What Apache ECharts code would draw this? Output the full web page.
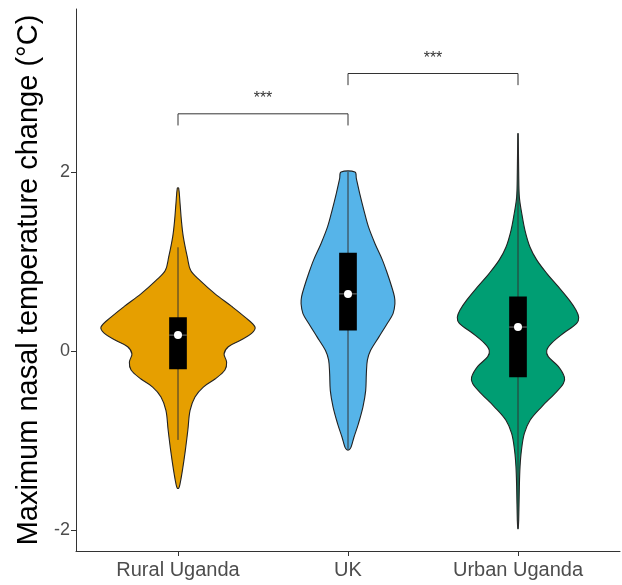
<!DOCTYPE html>
<html>
<head>
<meta charset="utf-8">
<title>Maximum nasal temperature change</title>
<script src="https://cdn.jsdelivr.net/npm/echarts@6/dist/echarts.min.js"></script>
<style>
  html, body { margin: 0; padding: 0; background: #fff; }
  #chart { width: 622px; height: 585px; }
</style>
</head>
<body>
<div id="chart"></div>
<script>
const categories = ['Rural Uganda', 'UK', 'Urban Uganda']
const yTicks = [-2, 0, 2]

// violin outlines: y value and half width (in x axis units)
const ruralY = [1.82, 1.65, 1.46, 1.28, 1.05, 0.90, 0.79, 0.64, 0.50, 0.38, 0.27, 0.20, 0.12, 0.05, -0.03, -0.12, -0.21, -0.31, -0.40, -0.51, -0.66, -0.88, -1.11, -1.33, -1.48, -1.53]
const ruralHalfWidth = [0.004, 0.012, 0.020, 0.031, 0.055, 0.075, 0.129, 0.218, 0.316, 0.394, 0.453, 0.433, 0.365, 0.296, 0.271, 0.286, 0.276, 0.218, 0.149, 0.100, 0.071, 0.058, 0.043, 0.026, 0.012, 0.004]

const ukY = [2.00, 1.93, 1.76, 1.57, 1.39, 1.20, 1.02, 0.87, 0.72, 0.61, 0.53, 0.42, 0.31, 0.16, 0.01, -0.10, -0.25, -0.44, -0.62, -0.81, -0.96, -1.07, -1.10]
const ukHalfWidth = [0.041, 0.049, 0.069, 0.094, 0.120, 0.159, 0.202, 0.231, 0.257, 0.273, 0.276, 0.265, 0.231, 0.182, 0.133, 0.114, 0.108, 0.104, 0.088, 0.061, 0.035, 0.018, 0.006]

const urbanY = [2.43, 2.00, 1.72, 1.54, 1.35, 1.16, 1.02, 0.87, 0.72, 0.57, 0.46, 0.38, 0.31, 0.20, 0.09, 0.01, -0.06, -0.17, -0.29, -0.36, -0.47, -0.62, -0.77, -0.92, -1.11, -1.29, -1.51, -1.89, -1.98]
const urbanHalfWidth = [0.001, 0.004, 0.008, 0.022, 0.041, 0.071, 0.110, 0.169, 0.237, 0.302, 0.341, 0.357, 0.345, 0.267, 0.198, 0.169, 0.178, 0.237, 0.273, 0.267, 0.218, 0.139, 0.071, 0.037, 0.020, 0.012, 0.008, 0.004, 0.001]

// box summaries
const boxLower = [-0.20, 0.23, -0.29]
const boxUpper = [0.38, 1.10, 0.61]
const centre = [0.18, 0.64, 0.27]
const whiskerLower = [-0.99, -1.09, -1.98]
const whiskerUpper = [1.16, 2.00, 2.43]

// significance brackets
const bracketFrom = [1, 2]
const bracketTo = [2, 3]
const bracketY = [2.65, 3.10]
const bracketLabel = ['***', '***']

const violinY = [ruralY, ukY, urbanY]
const violinW = [ruralHalfWidth, ukHalfWidth, urbanHalfWidth]
const colors = ['#E69F00', '#56B4E9', '#009E73']

const boxHalf = 0.052
const tipLength = 0.13

const renderViolin = (params, api) => {
  const i = params.dataIndex
  const cx = i + 1
  const ys = violinY[i]
  const ws = violinW[i]
  const pts = []
  for (let k = 0; k < ys.length; k++) pts.push(api.coord([cx + ws[k], ys[k]]))
  for (let k = ys.length - 1; k >= 0; k--) pts.push(api.coord([cx - ws[k], ys[k]]))

  const tl = api.coord([cx - boxHalf, boxUpper[i]])
  const br = api.coord([cx + boxHalf, boxLower[i]])
  const wTop = api.coord([cx, whiskerUpper[i]])
  const wBot = api.coord([cx, whiskerLower[i]])
  const mid = api.coord([cx, centre[i]])

  return {
    type: 'group',
    children: [
      {
        type: 'polygon',
        shape: { points: pts, smooth: 0.35 },
        style: { fill: colors[i], stroke: '#222', lineWidth: 1.1 }
      },
      {
        type: 'line',
        shape: { x1: wTop[0], y1: wTop[1], x2: wBot[0], y2: wBot[1] },
        style: { stroke: '#333', lineWidth: 1 }
      },
      {
        type: 'rect',
        shape: { x: tl[0], y: tl[1], width: br[0] - tl[0], height: br[1] - tl[1] },
        style: { fill: '#000' }
      },
      {
        type: 'line',
        shape: { x1: tl[0], y1: mid[1], x2: br[0], y2: mid[1] },
        style: { stroke: '#777', lineWidth: 1 }
      },
      {
        type: 'circle',
        shape: { cx: mid[0], cy: mid[1], r: 4 },
        style: { fill: '#fff' }
      }
    ]
  }
}

const renderBracket = (params, api) => {
  const i = params.dataIndex
  const a = api.coord([bracketFrom[i], bracketY[i] - tipLength])
  const b = api.coord([bracketFrom[i], bracketY[i]])
  const c = api.coord([bracketTo[i], bracketY[i]])
  const d = api.coord([bracketTo[i], bracketY[i] - tipLength])
  const t = api.coord([(bracketFrom[i] + bracketTo[i]) / 2, bracketY[i] + 0.17])
  return {
    type: 'group',
    children: [
      {
        type: 'polyline',
        shape: { points: [a, b, c, d] },
        style: { stroke: '#333', lineWidth: 1, fill: null }
      },
      {
        type: 'text',
        x: t[0],
        y: t[1],
        style: {
          text: bracketLabel[i],
          fill: '#333',
          font: '16px "Liberation Sans", Arial, sans-serif',
          align: 'center',
          verticalAlign: 'middle'
        }
      }
    ]
  }
}

const chart = echarts.init(document.getElementById('chart'))

const axisColor = '#333'

const option = {
  animation: false,
  backgroundColor: '#fff',
  textStyle: { fontFamily: '"Liberation Sans", Arial, sans-serif' },
  grid: { left: 76, right: 2, top: 9, bottom: 34 },
  xAxis: {
    type: 'value',
    min: 0.4,
    max: 3.6,
    axisLine: { show: true, onZero: false, lineStyle: { color: axisColor, width: 1 } },
    axisTick: { show: true, length: 5, customValues: [1, 2, 3], lineStyle: { color: axisColor } },
    axisLabel: {
      customValues: [1, 2, 3],
      formatter: v => categories[Math.round(v) - 1],
      color: '#4d4d4d',
      fontSize: 20,
      margin: 9
    },
    splitLine: { show: false }
  },
  yAxis: {
    type: 'value',
    min: -2.23,
    max: 3.82,
    name: 'Maximum nasal temperature change (°C)',
    nameLocation: 'middle',
    nameGap: 33,
    nameTextStyle: { color: '#000', fontSize: 29 },
    axisLine: { show: true, onZero: false, lineStyle: { color: axisColor, width: 1 } },
    axisTick: { show: true, length: 5, customValues: yTicks, lineStyle: { color: axisColor } },
    axisLabel: {
      customValues: yTicks,
      color: '#4d4d4d',
      fontSize: 18,
      margin: 6
    },
    splitLine: { show: false }
  },
  series: [
    {
      type: 'custom',
      renderItem: renderViolin,
      data: categories.map((c, i) => [i + 1, centre[i]]),
      clip: false
    },
    {
      type: 'custom',
      renderItem: renderBracket,
      data: bracketY.map((y, i) => [(bracketFrom[i] + bracketTo[i]) / 2, y]),
      clip: false
    }
  ]
}

chart.setOption(option)
</script>
</body>
</html>
